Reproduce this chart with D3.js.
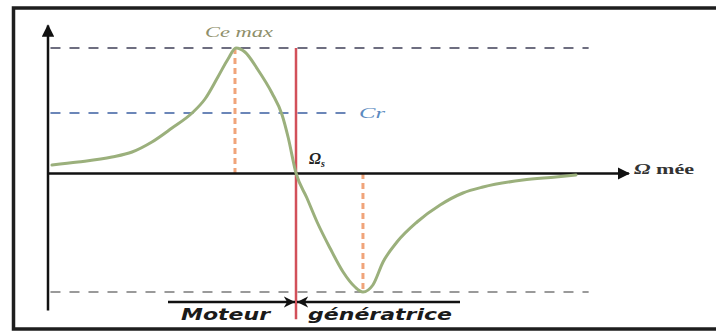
<!DOCTYPE html>
<html>
<head>
<meta charset="utf-8">
<script src="https://cdn.jsdelivr.net/npm/d3@7"></script>
<style>
  html, body { margin: 0; padding: 0; background: #fff; }
  svg { display: block; }
</style>
</head>
<body>
<svg id="chart" width="716" height="332"></svg>
<script>
// Torque-speed characteristic of an asynchronous machine
// speed in units of synchronous speed (Ωs = 1), torque in units of Ce max
const speed = [0.016, 0.121, 0.258, 0.339, 0.419, 0.5, 0.581, 0.633, 0.685, 0.726, 0.758, 0.794, 0.847,
               0.903, 0.944, 0.968, 1.0, 1.044, 1.085, 1.137, 1.19, 1.238, 1.27, 1.31, 1.351, 1.407,
               1.488, 1.581, 1.673, 1.754, 1.915, 2.048, 2.129];
const torque = [0.064, 0.088, 0.128, 0.168, 0.248, 0.36, 0.48, 0.592, 0.768, 0.912, 1.0, 0.968, 0.824,
                0.64, 0.464, 0.288, 0, -0.2, -0.392, -0.6, -0.792, -0.912, -0.952, -0.896, -0.712, -0.552,
                -0.392, -0.256, -0.16, -0.112, -0.056, -0.032, -0.016];

const ceMax = 1.0;          // motor pull-out torque
const crLevel = 0.48;       // load torque Cr
const ceMin = -0.952;       // generator pull-out torque
const omegaS = 1.0;         // synchronous speed
const speedAtCeMax = 0.754;
const speedAtCeMin = 1.27;
const axisEnd = 2.34;
const yTop = 1.18, yBottom = -1.1;

const svg = d3.select("#chart");
const x = d3.scaleLinear().domain([0, 1]).range([48, 296]);
const y = d3.scaleLinear().domain([0, 1]).range([173, 48]);

// frame
svg.append("rect")
  .attr("x", 13.5).attr("y", 8).attr("width", 740).attr("height", 321)
  .attr("fill", "none").attr("stroke", "#1e1e1e").attr("stroke-width", 3.5);

const defs = svg.append("defs");
defs.append("marker").attr("id", "arrow")
  .attr("viewBox", "0 0 10 10").attr("refX", 9).attr("refY", 5)
  .attr("markerWidth", 5).attr("markerHeight", 5).attr("markerUnits", "strokeWidth")
  .attr("orient", "auto-start-reverse")
  .append("path").attr("d", "M0,0 L10,5 L0,10 Z").attr("fill", "#111");
defs.append("marker").attr("id", "arrowSmall")
  .attr("viewBox", "0 0 10 10").attr("refX", 10).attr("refY", 5)
  .attr("markerWidth", 4.5).attr("markerHeight", 4.5).attr("markerUnits", "strokeWidth")
  .attr("orient", "auto")
  .append("path").attr("d", "M0,0 L10,5 L0,10 L3,5 Z").attr("fill", "#111");

// horizontal reference levels
const hlines = [
  { v: ceMax, color: "#6e6e80", dash: "10,9", x2: 2.18 },
  { v: crLevel, color: "#6b86b8", dash: "10,9", x2: 1.2 },
  { v: ceMin, color: "#9a9a9a", dash: "10,9", x2: 2.18 }
];
svg.selectAll("line.level").data(hlines).enter().append("line")
  .attr("class", "level")
  .attr("x1", x(0.01)).attr("x2", d => x(d.x2))
  .attr("y1", d => y(d.v)).attr("y2", d => y(d.v))
  .attr("stroke", d => d.color).attr("stroke-width", 2)
  .attr("stroke-dasharray", d => d.dash);

// vertical markers at the pull-out torques
svg.append("line")
  .attr("x1", x(speedAtCeMax)).attr("x2", x(speedAtCeMax))
  .attr("y1", y(ceMax)).attr("y2", y(0))
  .attr("stroke", "#f0a47a").attr("stroke-width", 3).attr("stroke-dasharray", "6,4");
svg.append("line")
  .attr("x1", x(speedAtCeMin)).attr("x2", x(speedAtCeMin))
  .attr("y1", y(0)).attr("y2", y(ceMin))
  .attr("stroke", "#f0a47a").attr("stroke-width", 3).attr("stroke-dasharray", "6,4");

// synchronous speed line
svg.append("line")
  .attr("x1", x(omegaS)).attr("x2", x(omegaS))
  .attr("y1", y(ceMax)).attr("y2", y(-1.17))
  .attr("stroke", "#d2505a").attr("stroke-width", 2.5);

// axes
const xAxis = d3.axisBottom(d3.scaleLinear().domain([0, axisEnd]).range([x(0), x(axisEnd)]))
  .tickValues([]).tickSizeOuter(0);
svg.append("g").attr("transform", `translate(0,${y(0)})`).call(xAxis)
  .select(".domain").attr("stroke", "#111").attr("stroke-width", 2.5)
  .attr("marker-end", "url(#arrow)");
const yAxis = d3.axisLeft(d3.scaleLinear().domain([yBottom, yTop]).range([y(yBottom), y(yTop)]))
  .tickValues([]).tickSizeOuter(0);
svg.append("g").attr("transform", `translate(${x(0)},0)`).call(yAxis)
  .select(".domain").attr("stroke", "#111").attr("stroke-width", 2.5)
  .attr("d", `M0,${y(yBottom)}V${y(yTop)}`)
  .attr("marker-end", "url(#arrow)");

// characteristic curve
const pts = speed.map((s, i) => [s, torque[i]]);
svg.append("path").datum(pts)
  .attr("fill", "none").attr("stroke", "#9bb07c").attr("stroke-width", 3)
  .attr("stroke-linecap", "round")
  .attr("d", d3.line().x(d => x(d[0])).y(d => y(d[1])).curve(d3.curveMonotoneX));

// labels
svg.append("text").attr("x", 205).attr("y", 37)
  .attr("font-family", "Liberation Serif").attr("font-style", "italic").attr("font-size", 15)
  .attr("fill", "#8f8f6a").attr("textLength", 68).attr("lengthAdjust", "spacingAndGlyphs").text("Ce max");
svg.append("text").attr("x", 359).attr("y", 118)
  .attr("font-family", "Liberation Serif").attr("font-style", "italic").attr("font-size", 15)
  .attr("fill", "#5b8ac0").attr("textLength", 26).attr("lengthAdjust", "spacingAndGlyphs").text("Cr");
const os = svg.append("text").attr("x", 309).attr("y", 164)
  .attr("font-family", "Liberation Serif").attr("font-style", "italic").attr("font-weight", "bold")
  .attr("font-size", 16).attr("fill", "#222");
os.append("tspan").text("Ω");
os.append("tspan").attr("font-size", 10).attr("dy", 3).text("s");
const om = svg.append("text").attr("x", 634).attr("y", 174)
  .attr("font-family", "Liberation Serif").attr("font-weight", "bold")
  .attr("font-size", 15).attr("fill", "#333")
  .attr("textLength", 60).attr("lengthAdjust", "spacingAndGlyphs");
om.append("tspan").attr("font-style", "italic").text("Ω");
om.append("tspan").text(" mée");

// operating regions
svg.append("line").attr("x1", 168).attr("x2", x(omegaS) - 1)
  .attr("y1", 302).attr("y2", 302).attr("stroke", "#111").attr("stroke-width", 2.5)
  .attr("marker-end", "url(#arrowSmall)");
svg.append("line").attr("x1", 460).attr("x2", x(omegaS) + 1)
  .attr("y1", 302).attr("y2", 302).attr("stroke", "#111").attr("stroke-width", 2.5)
  .attr("marker-end", "url(#arrowSmall)");
svg.append("text").attr("x", 181).attr("y", 320)
  .attr("font-family", "DejaVu Sans").attr("font-style", "oblique").attr("font-weight", "bold")
  .attr("font-size", 15).attr("fill", "#1a1a1a")
  .attr("textLength", 89).attr("lengthAdjust", "spacingAndGlyphs").text("Moteur");
svg.append("text").attr("x", 308).attr("y", 320)
  .attr("font-family", "DejaVu Sans").attr("font-style", "oblique").attr("font-weight", "bold")
  .attr("font-size", 15).attr("fill", "#1a1a1a")
  .attr("textLength", 144).attr("lengthAdjust", "spacingAndGlyphs").text("génératrice");
</script>
</body>
</html>
